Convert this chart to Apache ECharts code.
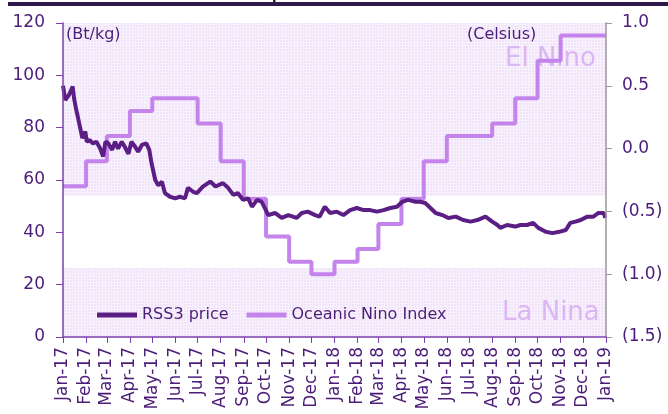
<!DOCTYPE html>
<html>
<head>
    <meta charset="utf-8">
    <title>RSS3 price vs Oceanic Nino Index</title>
    <script src="https://cdn.jsdelivr.net/npm/echarts@6.0.0/dist/echarts.min.js"></script>
    <style>
        html, body { margin: 0; padding: 0; background: #fff; }
        #chart { width: 668px; height: 414px; }
    </style>
</head>
<body>
    <div id="chart"></div>

    <script>
        // month starts, also the ONI step dates
        const months = ['2017-01-01','2017-02-01','2017-03-01','2017-04-01','2017-05-01','2017-06-01',
            '2017-07-01','2017-08-01','2017-09-01','2017-10-01','2017-11-01','2017-12-01',
            '2018-01-01','2018-02-01','2018-03-01','2018-04-01','2018-05-01','2018-06-01',
            '2018-07-01','2018-08-01','2018-09-01','2018-10-01','2018-11-01','2018-12-01','2019-01-01'];
        const monthNames = ['Jan','Feb','Mar','Apr','May','Jun','Jul','Aug','Sep','Oct','Nov','Dec'];

        // Oceanic Nino Index (Celsius)
        const oniValues = [-0.3, -0.1, 0.1, 0.3, 0.4, 0.4, 0.2, -0.1, -0.4, -0.7, -0.9, -1.0,
            -0.9, -0.8, -0.6, -0.4, -0.1, 0.1, 0.1, 0.2, 0.4, 0.7, 0.9, 0.9, 0.9];

        // RSS3 price (Bt/kg)
        const priceDates = ['2017-01-01','2017-01-04','2017-01-06','2017-01-09','2017-01-14','2017-01-16',
            '2017-01-18','2017-01-21','2017-01-24','2017-01-27','2017-01-31','2017-02-02','2017-02-06',
            '2017-02-10','2017-02-15','2017-02-20','2017-02-24','2017-02-27','2017-03-03','2017-03-08',
            '2017-03-12','2017-03-16','2017-03-21','2017-03-25','2017-03-30','2017-04-03','2017-04-08',
            '2017-04-12','2017-04-17','2017-04-23','2017-04-27','2017-04-30','2017-05-05','2017-05-09',
            '2017-05-14','2017-05-18','2017-05-25','2017-06-01','2017-06-07','2017-06-14','2017-06-18',
            '2017-06-25','2017-06-30','2017-07-08','2017-07-18','2017-07-25','2017-08-04','2017-08-11',
            '2017-08-18','2017-08-24','2017-08-31','2017-09-07','2017-09-12','2017-09-19','2017-09-25',
            '2017-10-04','2017-10-13','2017-10-22','2017-10-31','2017-11-11','2017-11-18','2017-11-26',
            '2017-12-06','2017-12-12','2017-12-19','2017-12-26','2018-01-04','2018-01-13','2018-01-22',
            '2018-01-31','2018-02-09','2018-02-18','2018-02-27','2018-03-08','2018-03-17','2018-03-26',
            '2018-04-02','2018-04-10','2018-04-20','2018-04-26','2018-05-03','2018-05-10','2018-05-17',
            '2018-05-26','2018-06-03','2018-06-13','2018-06-23','2018-07-03','2018-07-12','2018-07-23',
            '2018-08-01','2018-08-08','2018-08-12','2018-08-21','2018-09-01','2018-09-08','2018-09-17',
            '2018-09-25','2018-10-02','2018-10-12','2018-10-21','2018-10-30','2018-11-08','2018-11-14',
            '2018-11-21','2018-11-28','2018-12-07','2018-12-15','2018-12-22','2018-12-29','2018-12-31'];
        const priceValues = [96, 90.6, 90, 92.5, 95.7, 91,
            88, 84, 80, 76, 78.5, 74.6, 75.3,
            74, 74.6, 72, 69, 74.6, 74, 71.5,
            74.6, 72, 74.6, 72.7, 70, 74.6, 72.7,
            70.8, 73.4, 74, 71.5, 66.5, 60, 58,
            59.3, 55, 53.6, 53, 53.6, 53, 57,
            55.5, 55, 57.5, 59.4, 57.5, 58.8, 57,
            54.3, 55, 52.4, 53, 49.8, 52.4, 51.7,
            46.6, 47.4, 45.5, 46.6, 45.5, 47.4, 47.9,
            46.6, 46, 49.8, 47.4, 47.9, 46.6, 48.5,
            49.3, 48.5, 48.5, 47.9, 48.5, 49.3, 49.8,
            51.7, 52.4, 51.7, 51.7, 51.2, 49.3, 47.4,
            46.6, 45.5, 46, 44.7, 44.1, 44.7, 46,
            44.1, 42.8, 41.7, 42.8, 42.2, 42.8, 42.8,
            43.6, 41.7, 40.2, 39.7, 40.2, 40.9, 43.6,
            44.1, 44.7, 46, 46, 47.4, 47.4, 45.5];

        // shaded bands, in left-axis units
        const elNinoBand = [53.9, 120];
        const laNinaBand = [0, 26.4];

        const txt = '#4b1c78';
        const font = 'DejaVu Sans';

        // fine grid fill for the shaded bands
        const pat = document.createElement('canvas');
        pat.width = 3; pat.height = 3;
        const pc = pat.getContext('2d');
        pc.fillStyle = '#f0e3fa';
        pc.fillRect(0, 0, 3, 3);
        pc.fillStyle = '#f8f2fd';
        pc.fillRect(0, 0, 3, 1);
        pc.fillRect(0, 0, 1, 3);

        const chart = echarts.init(document.getElementById('chart'));

        chart.setOption({
            animation: false,
            textStyle: { fontFamily: font },
            grid: { left: 63, right: 62, top: 23, bottom: 77, outerBoundsMode: 'none', containLabel: false },
            legend: {
                left: 92, top: 302,
                itemWidth: 40, itemHeight: 5, itemGap: 18,
                textStyle: { color: txt, fontSize: 16, fontFamily: font },
                data: [
                    { name: 'RSS3 price', icon: 'rect' },
                    { name: 'Oceanic Nino Index', icon: 'rect' }
                ]
            },
            xAxis: {
                type: 'time',
                z: 10,
                min: months[0],
                max: months[months.length - 1],
                splitNumber: 24,
                minInterval: 28 * 86400000,
                maxInterval: 31 * 86400000,
                axisLine: { lineStyle: { color: '#7d3fb0', width: 1.5 } },
                axisTick: { show: true, length: 6, lineStyle: { color: '#7d3fb0' } },
                splitLine: { show: false },
                axisLabel: {
                    rotate: 90, interval: 0, hideOverlap: false,
                    showMinLabel: true, showMaxLabel: true,
                    color: txt, fontSize: 17, fontFamily: font, margin: 10,
                    formatter: v => {
                        const d = new Date(v);
                        return monthNames[d.getMonth()] + '-' + String(d.getFullYear()).slice(2);
                    }
                }
            },
            yAxis: [{
                type: 'value', min: 0, max: 120, interval: 20,
                z: 10,
                axisLine: { show: true, lineStyle: { color: '#7d3fb0', width: 1.5 } },
                axisTick: { show: true, length: 7, lineStyle: { color: '#7d3fb0' } },
                splitLine: { show: false },
                axisLabel: { color: txt, fontSize: 17, fontFamily: font, margin: 18 }
            }, {
                type: 'value', min: -1.5, max: 1.0, interval: 0.5,
                position: 'right',
                z: 10,
                axisLine: { show: true, lineStyle: { color: '#9a9a9a', width: 1.5 } },
                axisTick: { show: true, length: 6, lineStyle: { color: '#9a9a9a' } },
                splitLine: { show: false },
                axisLabel: {
                    color: txt, fontSize: 17, fontFamily: font, margin: 16,
                    formatter: v => v < 0 ? '(' + Math.abs(v).toFixed(1) + ')' : v.toFixed(1)
                }
            }],
            series: [{
                name: 'bands',
                type: 'line',
                data: [],
                z: 1,
                markArea: {
                    silent: true,
                    itemStyle: { color: { image: pat, repeat: 'repeat' } },
                    data: [
                        [{ yAxis: elNinoBand[0] }, { yAxis: elNinoBand[1] }],
                        [{ yAxis: laNinaBand[0] }, { yAxis: laNinaBand[1] }]
                    ]
                }
            }, {
                name: 'RSS3 price',
                type: 'line',
                yAxisIndex: 0,
                z: 4,
                showSymbol: false,
                color: '#5a1e84',
                lineStyle: { width: 4, color: '#5a1e84' },
                data: priceDates.map((d, i) => [d, priceValues[i]])
            }, {
                name: 'Oceanic Nino Index',
                type: 'line',
                yAxisIndex: 1,
                step: 'end',
                z: 3,
                showSymbol: false,
                color: '#c484ec',
                lineStyle: { width: 4, color: '#c484ec' },
                data: months.map((d, i) => [d, oniValues[i]])
            }],
            graphic: [
                { type: 'rect', shape: { x: 8, y: 2, width: 660, height: 4 }, style: { fill: '#2e1a4a' } },
                { type: 'rect', shape: { x: 273, y: 0, width: 2.5, height: 3 }, style: { fill: '#2e1a4a' } },
                { type: 'text', left: 66, top: 27, z: 10,
                  style: { text: '(Bt/kg)', fill: txt, font: '16px "DejaVu Sans"' } },
                { type: 'text', left: 467, top: 27, z: 10,
                  style: { text: '(Celsius)', fill: txt, font: '16px "DejaVu Sans"' } },
                { type: 'text', left: 505, top: 46, z: 2,
                  style: { text: 'El Nino', fill: '#dcb5f3', font: '26px "DejaVu Sans"' } },
                { type: 'text', left: 502, top: 300, z: 2,
                  style: { text: 'La Nina', fill: '#dcb5f3', font: '26px "DejaVu Sans"' } }
            ]
        });
    </script>
</body>
</html>
